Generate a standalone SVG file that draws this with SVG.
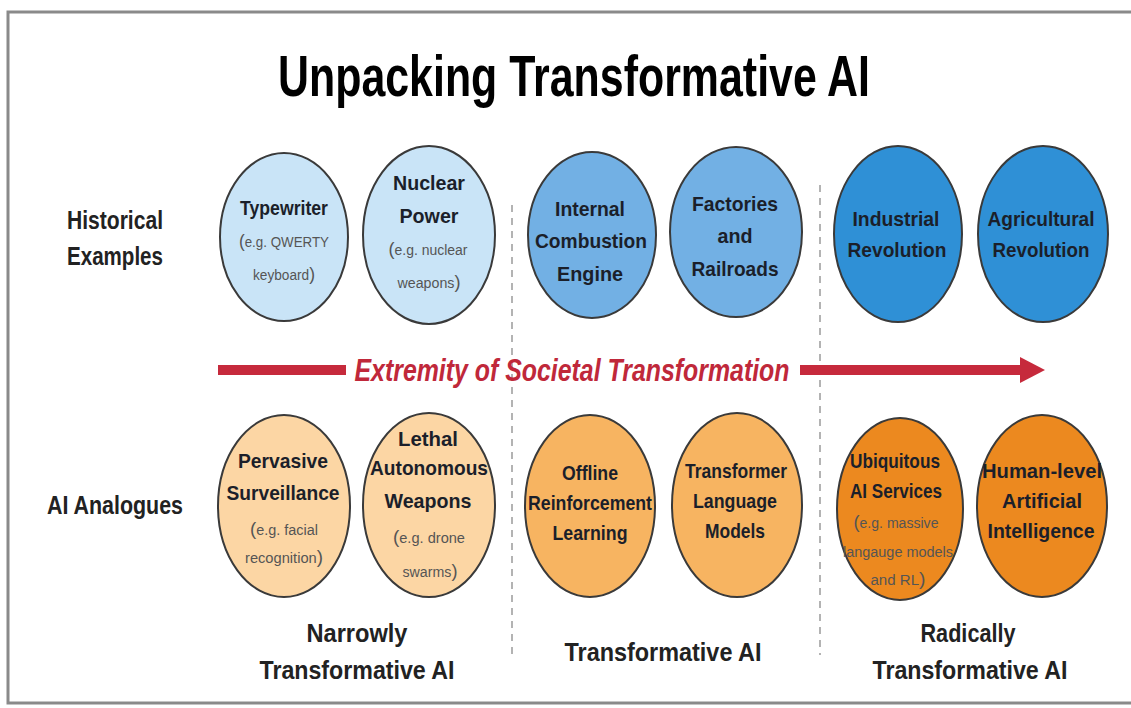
<svg xmlns="http://www.w3.org/2000/svg" width="1131" height="708" viewBox="0 0 1131 708">
<defs>
<style>
.m{font-family:'Liberation Sans',Arial,sans-serif;font-weight:bold;font-size:21px;fill:#1b1f2a;text-anchor:middle}
.s{font-family:'Liberation Sans',Arial,sans-serif;font-weight:normal;font-size:14px;fill:#555;text-anchor:middle}
.p{font-size:18px}
.lab{font-family:'Liberation Sans',Arial,sans-serif;font-weight:bold;font-size:25px;fill:#222;text-anchor:middle}
.e{stroke:#3a3a3a;stroke-width:2}
.b1{fill:#c9e4f7}.b2{fill:#72b0e4}.b3{fill:#2f90d6}
.o1{fill:#fcd6a4}.o2{fill:#f7b461}.o3{fill:#ec891f}
.dash{stroke:#9a9a9a;stroke-width:1.5;stroke-dasharray:7 6;fill:none}
.arr{stroke:#c62a3c;stroke-width:10;fill:none}
</style>
</defs>
<rect x="8" y="12" width="1140" height="691" fill="#fff" stroke="#8a8a8a" stroke-width="3"/>
<text id="title" x="574" y="96" font-family="'Liberation Sans',Arial,sans-serif" font-weight="bold" font-size="58" fill="#000" text-anchor="middle" textLength="592" lengthAdjust="spacingAndGlyphs">Unpacking Transformative AI</text>

<g id="row-labels">
<text class="lab" x="115" y="229" textLength="96" lengthAdjust="spacingAndGlyphs">Historical</text>
<text class="lab" x="115" y="265" textLength="96" lengthAdjust="spacingAndGlyphs">Examples</text>
<text class="lab" x="115" y="514" textLength="136" lengthAdjust="spacingAndGlyphs">AI Analogues</text>
</g>

<g id="connectors">
<line class="dash" x1="512" y1="205" x2="512" y2="655"/>
<line class="dash" x1="820" y1="185" x2="820" y2="655"/>
<line class="arr" x1="218" y1="370" x2="346" y2="370"/>
<line class="arr" x1="800" y1="370" x2="1024" y2="370"/>
<polygon points="1020,357 1045,370 1020,383" fill="#c62a3c"/>
<text x="572" y="381" font-family="'Liberation Sans',Arial,sans-serif" font-weight="bold" font-style="italic" font-size="32" fill="#c0283a" text-anchor="middle" textLength="435" lengthAdjust="spacingAndGlyphs">Extremity of Societal Transformation</text>
</g>

<g id="typewriter">
<ellipse class="e b1" cx="284" cy="237" rx="64" ry="84"/>
<text class="m" x="284" y="215" textLength="88" lengthAdjust="spacingAndGlyphs">Typewriter</text>
<text class="s" x="284" y="247" textLength="90" lengthAdjust="spacingAndGlyphs"><tspan class="p">(</tspan>e.g. QWERTY</text>
<text class="s" x="284" y="280" textLength="62" lengthAdjust="spacingAndGlyphs">keyboard<tspan class="p">)</tspan></text>
</g>
<g id="nuclear">
<ellipse class="e b1" cx="429" cy="235" rx="66" ry="89"/>
<text class="m" x="429" y="190" textLength="72" lengthAdjust="spacingAndGlyphs">Nuclear</text>
<text class="m" x="429" y="223" textLength="59" lengthAdjust="spacingAndGlyphs">Power</text>
<text class="s" x="428" y="255" textLength="79" lengthAdjust="spacingAndGlyphs"><tspan class="p">(</tspan>e.g. nuclear</text>
<text class="s" x="429" y="288" textLength="63" lengthAdjust="spacingAndGlyphs">weapons<tspan class="p">)</tspan></text>
</g>
<g id="combustion">
<ellipse class="e b2" cx="592" cy="235" rx="64" ry="83"/>
<text class="m" x="590" y="216" textLength="70" lengthAdjust="spacingAndGlyphs">Internal</text>
<text class="m" x="591" y="248" textLength="112" lengthAdjust="spacingAndGlyphs">Combustion</text>
<text class="m" x="590" y="281" textLength="66" lengthAdjust="spacingAndGlyphs">Engine</text>
</g>
<g id="factories">
<ellipse class="e b2" cx="736" cy="232" rx="66" ry="85"/>
<text class="m" x="735" y="211" textLength="86" lengthAdjust="spacingAndGlyphs">Factories</text>
<text class="m" x="735" y="243" textLength="35" lengthAdjust="spacingAndGlyphs">and</text>
<text class="m" x="735" y="276" textLength="87" lengthAdjust="spacingAndGlyphs">Railroads</text>
</g>
<g id="industrial">
<ellipse class="e b3" cx="898" cy="234" rx="64" ry="88"/>
<text class="m" x="896" y="226" textLength="87" lengthAdjust="spacingAndGlyphs">Industrial</text>
<text class="m" x="897" y="257" textLength="99" lengthAdjust="spacingAndGlyphs">Revolution</text>
</g>
<g id="agricultural">
<ellipse class="e b3" cx="1043" cy="234" rx="65" ry="88"/>
<text class="m" x="1041" y="226" textLength="107" lengthAdjust="spacingAndGlyphs">Agricultural</text>
<text class="m" x="1041" y="257" textLength="97" lengthAdjust="spacingAndGlyphs">Revolution</text>
</g>

<g id="surveillance">
<ellipse class="e o1" cx="284" cy="506" rx="66" ry="91"/>
<text class="m" x="283" y="468" textLength="90" lengthAdjust="spacingAndGlyphs">Pervasive</text>
<text class="m" x="283" y="500" textLength="113" lengthAdjust="spacingAndGlyphs">Surveillance</text>
<text class="s" x="284" y="535" textLength="68" lengthAdjust="spacingAndGlyphs"><tspan class="p">(</tspan>e.g. facial</text>
<text class="s" x="284" y="563" textLength="78" lengthAdjust="spacingAndGlyphs">recognition<tspan class="p">)</tspan></text>
</g>
<g id="lethal">
<ellipse class="e o1" cx="429" cy="505" rx="66" ry="92"/>
<text class="m" x="428" y="446" textLength="60" lengthAdjust="spacingAndGlyphs">Lethal</text>
<text class="m" x="429" y="475" textLength="118" lengthAdjust="spacingAndGlyphs">Autonomous</text>
<text class="m" x="428" y="508" textLength="87" lengthAdjust="spacingAndGlyphs">Weapons</text>
<text class="s" x="429" y="543" textLength="72" lengthAdjust="spacingAndGlyphs"><tspan class="p">(</tspan>e.g. drone</text>
<text class="s" x="430" y="577" textLength="55" lengthAdjust="spacingAndGlyphs">swarms<tspan class="p">)</tspan></text>
</g>
<g id="offline-rl">
<ellipse class="e o2" cx="590" cy="506" rx="65" ry="91"/>
<text class="m" x="590" y="480" textLength="56" lengthAdjust="spacingAndGlyphs">Offline</text>
<text class="m" x="590" y="510" textLength="124" lengthAdjust="spacingAndGlyphs">Reinforcement</text>
<text class="m" x="590" y="540" textLength="75" lengthAdjust="spacingAndGlyphs">Learning</text>
</g>
<g id="transformer-lm">
<ellipse class="e o2" cx="737" cy="505" rx="65" ry="92"/>
<text class="m" x="736" y="478" textLength="102" lengthAdjust="spacingAndGlyphs">Transformer</text>
<text class="m" x="735" y="508" textLength="84" lengthAdjust="spacingAndGlyphs">Language</text>
<text class="m" x="735" y="538" textLength="60" lengthAdjust="spacingAndGlyphs">Models</text>
</g>
<g id="ubiquitous">
<ellipse class="e o3" cx="900" cy="509" rx="63" ry="91"/>
<text class="m" x="895" y="468" textLength="90" lengthAdjust="spacingAndGlyphs">Ubiquitous</text>
<text class="m" x="896" y="498" textLength="92" lengthAdjust="spacingAndGlyphs">AI Services</text>
<text class="s" x="896" y="528" textLength="85" lengthAdjust="spacingAndGlyphs"><tspan class="p">(</tspan>e.g. massive</text>
<text class="s" x="898" y="557" textLength="110" lengthAdjust="spacingAndGlyphs">langauge models</text>
<text class="s" x="898" y="585" textLength="55" lengthAdjust="spacingAndGlyphs">and RL<tspan class="p">)</tspan></text>
</g>
<g id="human-level-ai">
<ellipse class="e o3" cx="1042" cy="506" rx="65" ry="91"/>
<text class="m" x="1042" y="478" textLength="120" lengthAdjust="spacingAndGlyphs">Human-level</text>
<text class="m" x="1042" y="508" textLength="80" lengthAdjust="spacingAndGlyphs">Artificial</text>
<text class="m" x="1041" y="538" textLength="107" lengthAdjust="spacingAndGlyphs">Intelligence</text>
</g>

<g id="category-labels">
<text class="lab" x="357" y="642" textLength="101" lengthAdjust="spacingAndGlyphs">Narrowly</text>
<text class="lab" x="357" y="679" textLength="195" lengthAdjust="spacingAndGlyphs">Transformative AI</text>
<text class="lab" x="663" y="661" textLength="197" lengthAdjust="spacingAndGlyphs">Transformative AI</text>
<text class="lab" x="968" y="642" textLength="95" lengthAdjust="spacingAndGlyphs">Radically</text>
<text class="lab" x="970" y="679" textLength="195" lengthAdjust="spacingAndGlyphs">Transformative AI</text>
</g>
</svg>
